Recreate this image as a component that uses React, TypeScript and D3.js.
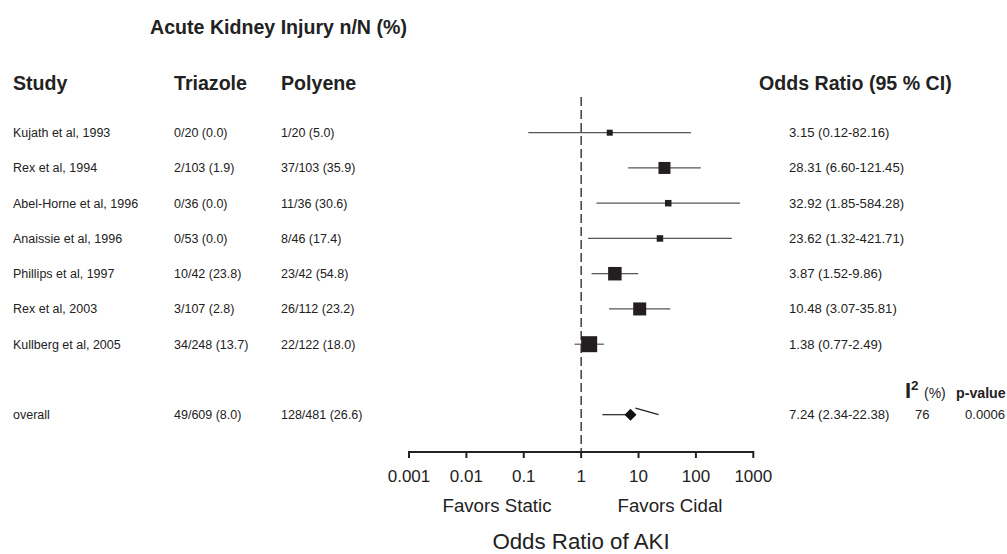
import React from "react";
import * as d3 from "d3";

const studies = [
  "Kujath et al, 1993",
  "Rex et al, 1994",
  "Abel-Horne et al, 1996",
  "Anaissie et al, 1996",
  "Phillips et al, 1997",
  "Rex et al, 2003",
  "Kullberg et al, 2005",
];
const triazole = ["0/20 (0.0)", "2/103 (1.9)", "0/36 (0.0)", "0/53 (0.0)", "10/42 (23.8)", "3/107 (2.8)", "34/248 (13.7)"];
const polyene = ["1/20 (5.0)", "37/103 (35.9)", "11/36 (30.6)", "8/46 (17.4)", "23/42 (54.8)", "26/112 (23.2)", "22/122 (18.0)"];
const oddsRatio = [3.15, 28.31, 32.92, 23.62, 3.87, 10.48, 1.38];
const lowerCI = [0.12, 6.6, 1.85, 1.32, 1.52, 3.07, 0.77];
const upperCI = [82.16, 121.45, 584.28, 421.71, 9.86, 35.81, 2.49];
const weights = [6, 12, 6.5, 6.5, 13.5, 13, 16];

const overallLabel = "overall";
const overallTriazole = "49/609 (8.0)";
const overallPolyene = "128/481 (26.6)";
const overallOR = 7.24;
const overallLower = 2.34;
const overallUpper = 22.38;
const overallI2 = "76";
const overallP = "0.0006";

const tickValues = [0.001, 0.01, 0.1, 1, 10, 100, 1000];
const tickLabels = ["0.001", "0.01", "0.1", "1", "10", "100", "1000"];

const FONT = "'Liberation Sans', Arial, Helvetica, sans-serif";

export default function App() {
  const W = 1007;
  const H = 554;
  const x = d3.scaleLog().domain([0.001, 1000]).range([409, 753.3]);
  const rowY = d3.scaleLinear().domain([0, 1]).range([132.7, 167.95]);
  const axisY = 452;
  const fmt = (v: number) => v.toFixed(2);
  const overallY = rowY(8);
  const ox = x(overallOR);
  const diamond = d3.line()([
    [ox - 6, overallY],
    [ox, overallY - 6],
    [ox + 6, overallY],
    [ox, overallY + 6],
  ]) + "Z";

  const colStudy = 13;
  const colTri = 174;
  const colPoly = 281;
  const colOR = 789;
  const textColor = "#222";
  const headSize = 19.6;
  const rowSize = 12.5;
  const numSize = 13.1;

  return (
    <svg
      width={W}
      height={H}
      style={{ position: "absolute", left: 0, top: 0, background: "#fff" }}
      fontFamily={FONT}
    >
      <rect x={0} y={0} width={W} height={H} fill="#fff" />
      <text x={150} y={34} fontSize={headSize} fontWeight="bold" fill={textColor}>
        Acute Kidney Injury n/N (%)
      </text>
      <text x={colStudy} y={90} fontSize={headSize} fontWeight="bold" fill={textColor}>Study</text>
      <text x={colTri} y={90} fontSize={headSize} fontWeight="bold" fill={textColor}>Triazole</text>
      <text x={colPoly} y={90} fontSize={headSize} fontWeight="bold" fill={textColor}>Polyene</text>
      <text x={759} y={90} fontSize={headSize} fontWeight="bold" fill={textColor}>Odds Ratio (95 % CI)</text>

      {/* reference dashed line */}
      <line x1={x(1)} x2={x(1)} y1={97} y2={axisY} stroke="#222" strokeWidth={1.3} strokeDasharray="9,4" />

      {studies.map((s, i) => {
        const y = rowY(i);
        const w = weights[i];
        return (
          <g key={s}>
            <text x={colStudy} y={y + 4.5} fontSize={rowSize} fill={textColor}>{s}</text>
            <text x={colTri} y={y + 4.5} fontSize={rowSize} fill={textColor}>{triazole[i]}</text>
            <text x={colPoly} y={y + 4.5} fontSize={rowSize} fill={textColor}>{polyene[i]}</text>
            <text x={colOR} y={y + 4.5} fontSize={numSize} fill={textColor}>
              {`${fmt(oddsRatio[i])} (${fmt(lowerCI[i])}-${fmt(upperCI[i])})`}
            </text>
            <line x1={x(lowerCI[i])} x2={x(upperCI[i])} y1={y} y2={y} stroke="#555" strokeWidth={1.2} />
            <rect x={x(oddsRatio[i]) - w / 2} y={y - w / 2} width={w} height={w} fill="#231f20" />
          </g>
        );
      })}

      {/* I2 / p-value header */}
      <text x={905} y={398} fontSize={22} fontWeight="bold" fill={textColor}>I</text>
      <text x={911} y={390} fontSize={13.5} fontWeight="bold" fill={textColor}>2</text>
      <text x={924} y={398} fontSize={14} fill={textColor}>(%)</text>
      <text x={956} y={398} fontSize={14.2} fontWeight="bold" fill={textColor}>p-value</text>

      {/* overall row */}
      <text x={colStudy} y={overallY + 4.5} fontSize={rowSize} fill={textColor}>{overallLabel}</text>
      <text x={colTri} y={overallY + 4.5} fontSize={rowSize} fill={textColor}>{overallTriazole}</text>
      <text x={colPoly} y={overallY + 4.5} fontSize={rowSize} fill={textColor}>{overallPolyene}</text>
      <text x={colOR} y={overallY + 4.5} fontSize={numSize} fill={textColor}>
        {`${fmt(overallOR)} (${fmt(overallLower)}-${fmt(overallUpper)})`}
      </text>
      <text x={915} y={overallY + 4.5} fontSize={numSize} fill={textColor}>{overallI2}</text>
      <text x={965} y={overallY + 4.5} fontSize={numSize} fill={textColor}>{overallP}</text>
      <line x1={x(overallLower)} x2={ox} y1={overallY} y2={overallY} stroke="#222" strokeWidth={1.2} />
      <line x1={ox + 5} x2={x(overallUpper)} y1={overallY - 6.5} y2={overallY} stroke="#222" strokeWidth={1.2} />
      <path d={diamond} fill="#111" />

      {/* axis */}
      <line x1={x(0.001)} x2={x(1000)} y1={axisY} y2={axisY} stroke="#222" strokeWidth={2} />
      {tickValues.map((t, i) => (
        <g key={t}>
          <line x1={x(t)} x2={x(t)} y1={axisY - 1} y2={axisY + 6} stroke="#222" strokeWidth={2} />
          <text x={x(t)} y={481.5} fontSize={17} textAnchor="middle" fill={textColor}>{tickLabels[i]}</text>
        </g>
      ))}
      <text x={497} y={511.5} fontSize={18.7} textAnchor="middle" fill={textColor}>Favors Static</text>
      <text x={670} y={511.5} fontSize={18.7} textAnchor="middle" fill={textColor}>Favors Cidal</text>
      <text x={581} y={549} fontSize={22.3} textAnchor="middle" fill={textColor}>Odds Ratio of AKI</text>
    </svg>
  );
}
